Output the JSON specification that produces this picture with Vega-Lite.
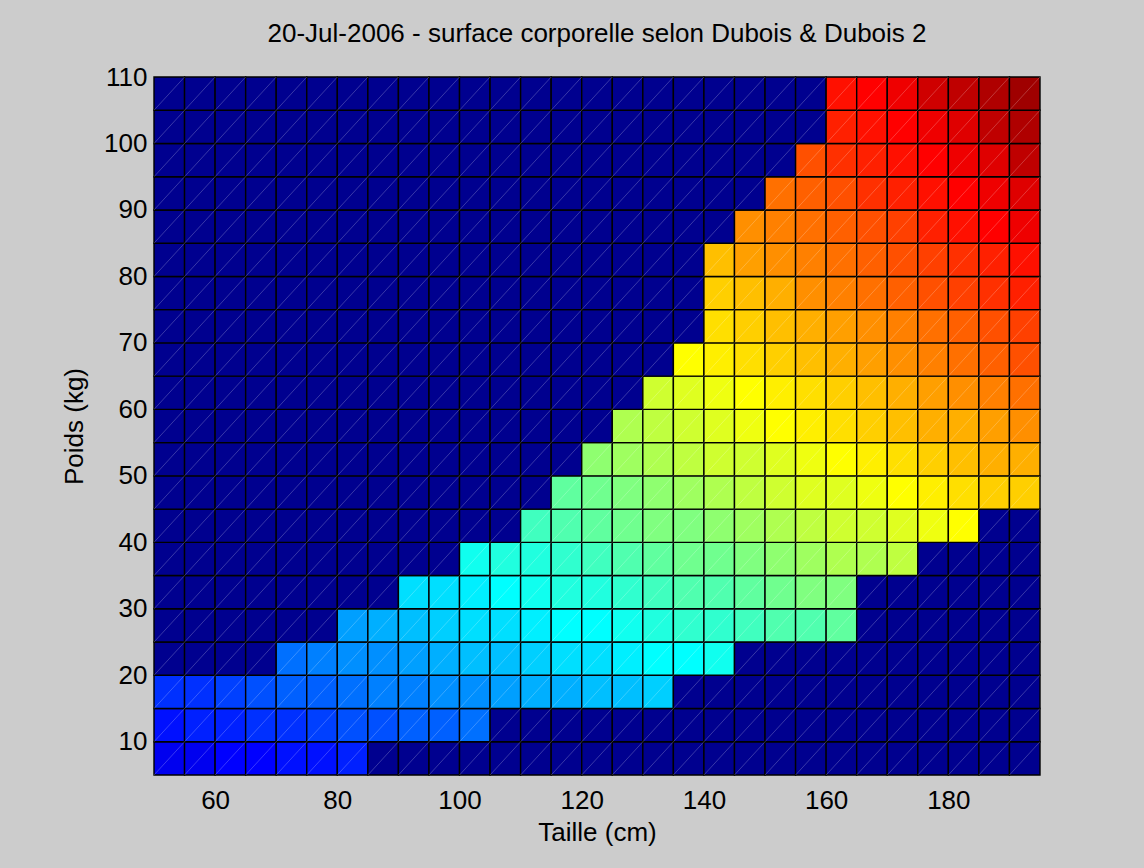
{
"$schema": "https://vega.github.io/schema/vega-lite/v6.json",
"width": 886, "height": 698,
"autosize": {"type": "none"},
"padding": {"left": 154, "top": 77, "right": 104, "bottom": 93},
"background": "#CCCCCC",
"config": {"view": {"stroke": null}, "font": "Liberation Sans"},
"title": {"text": "20-Jul-2006 - surface corporelle selon Dubois & Dubois 2", "font": "Liberation Sans", "fontSize": 26, "fontWeight": "normal", "color": "black", "anchor": "middle", "baseline": "alphabetic", "offset": -4},
"data": {"values": [
{"h":50,"w":5,"s":0.2428},{"h":55,"w":5,"s":0.2601},{"h":60,"w":5,"s":0.2771},{"h":65,"w":5,"s":0.2936},{"h":70,"w":5,"s":0.3098},{"h":75,"w":5,"s":0.3257},{"h":80,"w":5,"s":0.3413},
{"h":85,"w":5,"s":0},{"h":90,"w":5,"s":0},{"h":95,"w":5,"s":0},{"h":100,"w":5,"s":0},{"h":105,"w":5,"s":0},{"h":110,"w":5,"s":0},{"h":115,"w":5,"s":0},{"h":120,"w":5,"s":0},{"h":125,"w":5,"s":0},{"h":130,"w":5,"s":0},{"h":135,"w":5,"s":0},{"h":140,"w":5,"s":0},{"h":145,"w":5,"s":0},{"h":150,"w":5,"s":0},{"h":155,"w":5,"s":0},{"h":160,"w":5,"s":0},{"h":165,"w":5,"s":0},{"h":170,"w":5,"s":0},{"h":175,"w":5,"s":0},{"h":180,"w":5,"s":0},{"h":185,"w":5,"s":0},{"h":190,"w":5,"s":0},
{"h":50,"w":10,"s":0.3259},{"h":55,"w":10,"s":0.3493},{"h":60,"w":10,"s":0.3720},{"h":65,"w":10,"s":0.3942},{"h":70,"w":10,"s":0.4160},{"h":75,"w":10,"s":0.4373},{"h":80,"w":10,"s":0.4583},{"h":85,"w":10,"s":0.4789},{"h":90,"w":10,"s":0.4991},{"h":95,"w":10,"s":0.5191},{"h":100,"w":10,"s":0.5387},
{"h":105,"w":10,"s":0},{"h":110,"w":10,"s":0},{"h":115,"w":10,"s":0},{"h":120,"w":10,"s":0},{"h":125,"w":10,"s":0},{"h":130,"w":10,"s":0},{"h":135,"w":10,"s":0},{"h":140,"w":10,"s":0},{"h":145,"w":10,"s":0},{"h":150,"w":10,"s":0},{"h":155,"w":10,"s":0},{"h":160,"w":10,"s":0},{"h":165,"w":10,"s":0},{"h":170,"w":10,"s":0},{"h":175,"w":10,"s":0},{"h":180,"w":10,"s":0},{"h":185,"w":10,"s":0},{"h":190,"w":10,"s":0},
{"h":50,"w":15,"s":0.3872},{"h":55,"w":15,"s":0.4149},{"h":60,"w":15,"s":0.4419},{"h":65,"w":15,"s":0.4683},{"h":70,"w":15,"s":0.4942},{"h":75,"w":15,"s":0.5195},{"h":80,"w":15,"s":0.5444},{"h":85,"w":15,"s":0.5689},{"h":90,"w":15,"s":0.5930},{"h":95,"w":15,"s":0.6167},{"h":100,"w":15,"s":0.6400},{"h":105,"w":15,"s":0.6631},{"h":110,"w":15,"s":0.6858},{"h":115,"w":15,"s":0.7083},{"h":120,"w":15,"s":0.7305},{"h":125,"w":15,"s":0.7524},{"h":130,"w":15,"s":0.7741},
{"h":135,"w":15,"s":0},{"h":140,"w":15,"s":0},{"h":145,"w":15,"s":0},{"h":150,"w":15,"s":0},{"h":155,"w":15,"s":0},{"h":160,"w":15,"s":0},{"h":165,"w":15,"s":0},{"h":170,"w":15,"s":0},{"h":175,"w":15,"s":0},{"h":180,"w":15,"s":0},{"h":185,"w":15,"s":0},{"h":190,"w":15,"s":0},
{"h":50,"w":20,"s":0},{"h":55,"w":20,"s":0},{"h":60,"w":20,"s":0},{"h":65,"w":20,"s":0},
{"h":70,"w":20,"s":0.5585},{"h":75,"w":20,"s":0.5871},{"h":80,"w":20,"s":0.6152},{"h":85,"w":20,"s":0.6429},{"h":90,"w":20,"s":0.6701},{"h":95,"w":20,"s":0.6969},{"h":100,"w":20,"s":0.7233},{"h":105,"w":20,"s":0.7493},{"h":110,"w":20,"s":0.7750},{"h":115,"w":20,"s":0.8004},{"h":120,"w":20,"s":0.8255},{"h":125,"w":20,"s":0.8503},{"h":130,"w":20,"s":0.8748},{"h":135,"w":20,"s":0.8991},{"h":140,"w":20,"s":0.9231},
{"h":145,"w":20,"s":0},{"h":150,"w":20,"s":0},{"h":155,"w":20,"s":0},{"h":160,"w":20,"s":0},{"h":165,"w":20,"s":0},{"h":170,"w":20,"s":0},{"h":175,"w":20,"s":0},{"h":180,"w":20,"s":0},{"h":185,"w":20,"s":0},{"h":190,"w":20,"s":0},
{"h":50,"w":25,"s":0},{"h":55,"w":25,"s":0},{"h":60,"w":25,"s":0},{"h":65,"w":25,"s":0},{"h":70,"w":25,"s":0},{"h":75,"w":25,"s":0},
{"h":80,"w":25,"s":0.6765},{"h":85,"w":25,"s":0.7068},{"h":90,"w":25,"s":0.7367},{"h":95,"w":25,"s":0.7662},{"h":100,"w":25,"s":0.7952},{"h":105,"w":25,"s":0.8239},{"h":110,"w":25,"s":0.8521},{"h":115,"w":25,"s":0.8800},{"h":120,"w":25,"s":0.9076},{"h":125,"w":25,"s":0.9349},{"h":130,"w":25,"s":0.9619},{"h":135,"w":25,"s":0.9885},{"h":140,"w":25,"s":1.0149},{"h":145,"w":25,"s":1.0411},{"h":150,"w":25,"s":1.0670},{"h":155,"w":25,"s":1.0927},{"h":160,"w":25,"s":1.1181},
{"h":165,"w":25,"s":0},{"h":170,"w":25,"s":0},{"h":175,"w":25,"s":0},{"h":180,"w":25,"s":0},{"h":185,"w":25,"s":0},{"h":190,"w":25,"s":0},
{"h":50,"w":30,"s":0},{"h":55,"w":30,"s":0},{"h":60,"w":30,"s":0},{"h":65,"w":30,"s":0},{"h":70,"w":30,"s":0},{"h":75,"w":30,"s":0},{"h":80,"w":30,"s":0},{"h":85,"w":30,"s":0},
{"h":90,"w":30,"s":0.7961},{"h":95,"w":30,"s":0.8279},{"h":100,"w":30,"s":0.8593},{"h":105,"w":30,"s":0.8902},{"h":110,"w":30,"s":0.9208},{"h":115,"w":30,"s":0.9509},{"h":120,"w":30,"s":0.9807},{"h":125,"w":30,"s":1.0102},{"h":130,"w":30,"s":1.0393},{"h":135,"w":30,"s":1.0682},{"h":140,"w":30,"s":1.0967},{"h":145,"w":30,"s":1.1250},{"h":150,"w":30,"s":1.1529},{"h":155,"w":30,"s":1.1807},{"h":160,"w":30,"s":1.2082},
{"h":165,"w":30,"s":0},{"h":170,"w":30,"s":0},{"h":175,"w":30,"s":0},{"h":180,"w":30,"s":0},{"h":185,"w":30,"s":0},{"h":190,"w":30,"s":0},
{"h":50,"w":35,"s":0},{"h":55,"w":35,"s":0},{"h":60,"w":35,"s":0},{"h":65,"w":35,"s":0},{"h":70,"w":35,"s":0},{"h":75,"w":35,"s":0},{"h":80,"w":35,"s":0},{"h":85,"w":35,"s":0},{"h":90,"w":35,"s":0},{"h":95,"w":35,"s":0},
{"h":100,"w":35,"s":0.9175},{"h":105,"w":35,"s":0.9505},{"h":110,"w":35,"s":0.9831},{"h":115,"w":35,"s":1.0153},{"h":120,"w":35,"s":1.0471},{"h":125,"w":35,"s":1.0786},{"h":130,"w":35,"s":1.1097},{"h":135,"w":35,"s":1.1405},{"h":140,"w":35,"s":1.1709},{"h":145,"w":35,"s":1.2011},{"h":150,"w":35,"s":1.2310},{"h":155,"w":35,"s":1.2606},{"h":160,"w":35,"s":1.2899},{"h":165,"w":35,"s":1.3191},{"h":170,"w":35,"s":1.3479},
{"h":175,"w":35,"s":0},{"h":180,"w":35,"s":0},{"h":185,"w":35,"s":0},{"h":190,"w":35,"s":0},
{"h":50,"w":40,"s":0},{"h":55,"w":40,"s":0},{"h":60,"w":40,"s":0},{"h":65,"w":40,"s":0},{"h":70,"w":40,"s":0},{"h":75,"w":40,"s":0},{"h":80,"w":40,"s":0},{"h":85,"w":40,"s":0},{"h":90,"w":40,"s":0},{"h":95,"w":40,"s":0},{"h":100,"w":40,"s":0},{"h":105,"w":40,"s":0},
{"h":110,"w":40,"s":1.0405},{"h":115,"w":40,"s":1.0746},{"h":120,"w":40,"s":1.1083},{"h":125,"w":40,"s":1.1416},{"h":130,"w":40,"s":1.1745},{"h":135,"w":40,"s":1.2071},{"h":140,"w":40,"s":1.2393},{"h":145,"w":40,"s":1.2713},{"h":150,"w":40,"s":1.3029},{"h":155,"w":40,"s":1.3343},{"h":160,"w":40,"s":1.3653},{"h":165,"w":40,"s":1.3961},{"h":170,"w":40,"s":1.4266},{"h":175,"w":40,"s":1.4570},{"h":180,"w":40,"s":1.4870},
{"h":185,"w":40,"s":0},{"h":190,"w":40,"s":0},
{"h":50,"w":45,"s":0},{"h":55,"w":45,"s":0},{"h":60,"w":45,"s":0},{"h":65,"w":45,"s":0},{"h":70,"w":45,"s":0},{"h":75,"w":45,"s":0},{"h":80,"w":45,"s":0},{"h":85,"w":45,"s":0},{"h":90,"w":45,"s":0},{"h":95,"w":45,"s":0},{"h":100,"w":45,"s":0},{"h":105,"w":45,"s":0},{"h":110,"w":45,"s":0},
{"h":115,"w":45,"s":1.1298},{"h":120,"w":45,"s":1.1652},{"h":125,"w":45,"s":1.2002},{"h":130,"w":45,"s":1.2348},{"h":135,"w":45,"s":1.2690},{"h":140,"w":45,"s":1.3030},{"h":145,"w":45,"s":1.3365},{"h":150,"w":45,"s":1.3698},{"h":155,"w":45,"s":1.4028},{"h":160,"w":45,"s":1.4354},{"h":165,"w":45,"s":1.4678},{"h":170,"w":45,"s":1.4999},{"h":175,"w":45,"s":1.5318},{"h":180,"w":45,"s":1.5634},{"h":185,"w":45,"s":1.5947},{"h":190,"w":45,"s":1.6258},
{"h":50,"w":50,"s":0},{"h":55,"w":50,"s":0},{"h":60,"w":50,"s":0},{"h":65,"w":50,"s":0},{"h":70,"w":50,"s":0},{"h":75,"w":50,"s":0},{"h":80,"w":50,"s":0},{"h":85,"w":50,"s":0},{"h":90,"w":50,"s":0},{"h":95,"w":50,"s":0},{"h":100,"w":50,"s":0},{"h":105,"w":50,"s":0},{"h":110,"w":50,"s":0},{"h":115,"w":50,"s":0},
{"h":120,"w":50,"s":1.2186},{"h":125,"w":50,"s":1.2552},{"h":130,"w":50,"s":1.2914},{"h":135,"w":50,"s":1.3272},{"h":140,"w":50,"s":1.3626},{"h":145,"w":50,"s":1.3977},{"h":150,"w":50,"s":1.4325},{"h":155,"w":50,"s":1.4670},{"h":160,"w":50,"s":1.5011},{"h":165,"w":50,"s":1.5350},{"h":170,"w":50,"s":1.5686},{"h":175,"w":50,"s":1.6019},{"h":180,"w":50,"s":1.6350},{"h":185,"w":50,"s":1.6678},{"h":190,"w":50,"s":1.7003},
{"h":50,"w":55,"s":0},{"h":55,"w":55,"s":0},{"h":60,"w":55,"s":0},{"h":65,"w":55,"s":0},{"h":70,"w":55,"s":0},{"h":75,"w":55,"s":0},{"h":80,"w":55,"s":0},{"h":85,"w":55,"s":0},{"h":90,"w":55,"s":0},{"h":95,"w":55,"s":0},{"h":100,"w":55,"s":0},{"h":105,"w":55,"s":0},{"h":110,"w":55,"s":0},{"h":115,"w":55,"s":0},{"h":120,"w":55,"s":0},
{"h":125,"w":55,"s":1.3070},{"h":130,"w":55,"s":1.3447},{"h":135,"w":55,"s":1.3820},{"h":140,"w":55,"s":1.4189},{"h":145,"w":55,"s":1.4555},{"h":150,"w":55,"s":1.4917},{"h":155,"w":55,"s":1.5277},{"h":160,"w":55,"s":1.5632},{"h":165,"w":55,"s":1.5984},{"h":170,"w":55,"s":1.6334},{"h":175,"w":55,"s":1.6681},{"h":180,"w":55,"s":1.7025},{"h":185,"w":55,"s":1.7367},{"h":190,"w":55,"s":1.7706},
{"h":50,"w":60,"s":0},{"h":55,"w":60,"s":0},{"h":60,"w":60,"s":0},{"h":65,"w":60,"s":0},{"h":70,"w":60,"s":0},{"h":75,"w":60,"s":0},{"h":80,"w":60,"s":0},{"h":85,"w":60,"s":0},{"h":90,"w":60,"s":0},{"h":95,"w":60,"s":0},{"h":100,"w":60,"s":0},{"h":105,"w":60,"s":0},{"h":110,"w":60,"s":0},{"h":115,"w":60,"s":0},{"h":120,"w":60,"s":0},{"h":125,"w":60,"s":0},
{"h":130,"w":60,"s":1.3954},{"h":135,"w":60,"s":1.4341},{"h":140,"w":60,"s":1.4724},{"h":145,"w":60,"s":1.5103},{"h":150,"w":60,"s":1.5479},{"h":155,"w":60,"s":1.5852},{"h":160,"w":60,"s":1.6220},{"h":165,"w":60,"s":1.6586},{"h":170,"w":60,"s":1.6949},{"h":175,"w":60,"s":1.7309},{"h":180,"w":60,"s":1.7666},{"h":185,"w":60,"s":1.8021},{"h":190,"w":60,"s":1.8372},
{"h":50,"w":65,"s":0},{"h":55,"w":65,"s":0},{"h":60,"w":65,"s":0},{"h":65,"w":65,"s":0},{"h":70,"w":65,"s":0},{"h":75,"w":65,"s":0},{"h":80,"w":65,"s":0},{"h":85,"w":65,"s":0},{"h":90,"w":65,"s":0},{"h":95,"w":65,"s":0},{"h":100,"w":65,"s":0},{"h":105,"w":65,"s":0},{"h":110,"w":65,"s":0},{"h":115,"w":65,"s":0},{"h":120,"w":65,"s":0},{"h":125,"w":65,"s":0},{"h":130,"w":65,"s":0},
{"h":135,"w":65,"s":1.4837},{"h":140,"w":65,"s":1.5233},{"h":145,"w":65,"s":1.5626},{"h":150,"w":65,"s":1.6015},{"h":155,"w":65,"s":1.6400},{"h":160,"w":65,"s":1.6782},{"h":165,"w":65,"s":1.7160},{"h":170,"w":65,"s":1.7536},{"h":175,"w":65,"s":1.7909},{"h":180,"w":65,"s":1.8278},{"h":185,"w":65,"s":1.8645},{"h":190,"w":65,"s":1.9008},
{"h":50,"w":70,"s":0},{"h":55,"w":70,"s":0},{"h":60,"w":70,"s":0},{"h":65,"w":70,"s":0},{"h":70,"w":70,"s":0},{"h":75,"w":70,"s":0},{"h":80,"w":70,"s":0},{"h":85,"w":70,"s":0},{"h":90,"w":70,"s":0},{"h":95,"w":70,"s":0},{"h":100,"w":70,"s":0},{"h":105,"w":70,"s":0},{"h":110,"w":70,"s":0},{"h":115,"w":70,"s":0},{"h":120,"w":70,"s":0},{"h":125,"w":70,"s":0},{"h":130,"w":70,"s":0},{"h":135,"w":70,"s":0},
{"h":140,"w":70,"s":1.5721},{"h":145,"w":70,"s":1.6126},{"h":150,"w":70,"s":1.6527},{"h":155,"w":70,"s":1.6925},{"h":160,"w":70,"s":1.7319},{"h":165,"w":70,"s":1.7709},{"h":170,"w":70,"s":1.8097},{"h":175,"w":70,"s":1.8482},{"h":180,"w":70,"s":1.8863},{"h":185,"w":70,"s":1.9241},{"h":190,"w":70,"s":1.9617},
{"h":50,"w":75,"s":0},{"h":55,"w":75,"s":0},{"h":60,"w":75,"s":0},{"h":65,"w":75,"s":0},{"h":70,"w":75,"s":0},{"h":75,"w":75,"s":0},{"h":80,"w":75,"s":0},{"h":85,"w":75,"s":0},{"h":90,"w":75,"s":0},{"h":95,"w":75,"s":0},{"h":100,"w":75,"s":0},{"h":105,"w":75,"s":0},{"h":110,"w":75,"s":0},{"h":115,"w":75,"s":0},{"h":120,"w":75,"s":0},{"h":125,"w":75,"s":0},{"h":130,"w":75,"s":0},{"h":135,"w":75,"s":0},
{"h":140,"w":75,"s":1.6189},{"h":145,"w":75,"s":1.6606},{"h":150,"w":75,"s":1.7019},{"h":155,"w":75,"s":1.7429},{"h":160,"w":75,"s":1.7834},{"h":165,"w":75,"s":1.8236},{"h":170,"w":75,"s":1.8636},{"h":175,"w":75,"s":1.9032},{"h":180,"w":75,"s":1.9424},{"h":185,"w":75,"s":1.9814},{"h":190,"w":75,"s":2.0201},
{"h":50,"w":80,"s":0},{"h":55,"w":80,"s":0},{"h":60,"w":80,"s":0},{"h":65,"w":80,"s":0},{"h":70,"w":80,"s":0},{"h":75,"w":80,"s":0},{"h":80,"w":80,"s":0},{"h":85,"w":80,"s":0},{"h":90,"w":80,"s":0},{"h":95,"w":80,"s":0},{"h":100,"w":80,"s":0},{"h":105,"w":80,"s":0},{"h":110,"w":80,"s":0},{"h":115,"w":80,"s":0},{"h":120,"w":80,"s":0},{"h":125,"w":80,"s":0},{"h":130,"w":80,"s":0},{"h":135,"w":80,"s":0},
{"h":140,"w":80,"s":1.6639},{"h":145,"w":80,"s":1.7067},{"h":150,"w":80,"s":1.7492},{"h":155,"w":80,"s":1.7914},{"h":160,"w":80,"s":1.8330},{"h":165,"w":80,"s":1.8743},{"h":170,"w":80,"s":1.9154},{"h":175,"w":80,"s":1.9561},{"h":180,"w":80,"s":1.9964},{"h":185,"w":80,"s":2.0365},{"h":190,"w":80,"s":2.0762},
{"h":50,"w":85,"s":0},{"h":55,"w":85,"s":0},{"h":60,"w":85,"s":0},{"h":65,"w":85,"s":0},{"h":70,"w":85,"s":0},{"h":75,"w":85,"s":0},{"h":80,"w":85,"s":0},{"h":85,"w":85,"s":0},{"h":90,"w":85,"s":0},{"h":95,"w":85,"s":0},{"h":100,"w":85,"s":0},{"h":105,"w":85,"s":0},{"h":110,"w":85,"s":0},{"h":115,"w":85,"s":0},{"h":120,"w":85,"s":0},{"h":125,"w":85,"s":0},{"h":130,"w":85,"s":0},{"h":135,"w":85,"s":0},{"h":140,"w":85,"s":0},
{"h":145,"w":85,"s":1.7513},{"h":150,"w":85,"s":1.7949},{"h":155,"w":85,"s":1.8381},{"h":160,"w":85,"s":1.8808},{"h":165,"w":85,"s":1.9233},{"h":170,"w":85,"s":1.9654},{"h":175,"w":85,"s":2.0072},{"h":180,"w":85,"s":2.0485},{"h":185,"w":85,"s":2.0896},{"h":190,"w":85,"s":2.1304},
{"h":50,"w":90,"s":0},{"h":55,"w":90,"s":0},{"h":60,"w":90,"s":0},{"h":65,"w":90,"s":0},{"h":70,"w":90,"s":0},{"h":75,"w":90,"s":0},{"h":80,"w":90,"s":0},{"h":85,"w":90,"s":0},{"h":90,"w":90,"s":0},{"h":95,"w":90,"s":0},{"h":100,"w":90,"s":0},{"h":105,"w":90,"s":0},{"h":110,"w":90,"s":0},{"h":115,"w":90,"s":0},{"h":120,"w":90,"s":0},{"h":125,"w":90,"s":0},{"h":130,"w":90,"s":0},{"h":135,"w":90,"s":0},{"h":140,"w":90,"s":0},{"h":145,"w":90,"s":0},
{"h":150,"w":90,"s":1.8390},{"h":155,"w":90,"s":1.8833},{"h":160,"w":90,"s":1.9271},{"h":165,"w":90,"s":1.9706},{"h":170,"w":90,"s":2.0137},{"h":175,"w":90,"s":2.0565},{"h":180,"w":90,"s":2.0989},{"h":185,"w":90,"s":2.1410},{"h":190,"w":90,"s":2.1828},
{"h":50,"w":95,"s":0},{"h":55,"w":95,"s":0},{"h":60,"w":95,"s":0},{"h":65,"w":95,"s":0},{"h":70,"w":95,"s":0},{"h":75,"w":95,"s":0},{"h":80,"w":95,"s":0},{"h":85,"w":95,"s":0},{"h":90,"w":95,"s":0},{"h":95,"w":95,"s":0},{"h":100,"w":95,"s":0},{"h":105,"w":95,"s":0},{"h":110,"w":95,"s":0},{"h":115,"w":95,"s":0},{"h":120,"w":95,"s":0},{"h":125,"w":95,"s":0},{"h":130,"w":95,"s":0},{"h":135,"w":95,"s":0},{"h":140,"w":95,"s":0},{"h":145,"w":95,"s":0},{"h":150,"w":95,"s":0},
{"h":155,"w":95,"s":1.9271},{"h":160,"w":95,"s":1.9719},{"h":165,"w":95,"s":2.0164},{"h":170,"w":95,"s":2.0605},{"h":175,"w":95,"s":2.1043},{"h":180,"w":95,"s":2.1477},{"h":185,"w":95,"s":2.1908},{"h":190,"w":95,"s":2.2335},
{"h":50,"w":100,"s":0},{"h":55,"w":100,"s":0},{"h":60,"w":100,"s":0},{"h":65,"w":100,"s":0},{"h":70,"w":100,"s":0},{"h":75,"w":100,"s":0},{"h":80,"w":100,"s":0},{"h":85,"w":100,"s":0},{"h":90,"w":100,"s":0},{"h":95,"w":100,"s":0},{"h":100,"w":100,"s":0},{"h":105,"w":100,"s":0},{"h":110,"w":100,"s":0},{"h":115,"w":100,"s":0},{"h":120,"w":100,"s":0},{"h":125,"w":100,"s":0},{"h":130,"w":100,"s":0},{"h":135,"w":100,"s":0},{"h":140,"w":100,"s":0},{"h":145,"w":100,"s":0},{"h":150,"w":100,"s":0},{"h":155,"w":100,"s":0},
{"h":160,"w":100,"s":2.0153},{"h":165,"w":100,"s":2.0608},{"h":170,"w":100,"s":2.1059},{"h":175,"w":100,"s":2.1507},{"h":180,"w":100,"s":2.1950},{"h":185,"w":100,"s":2.2391},{"h":190,"w":100,"s":2.2827},
{"h":50,"w":105,"s":0},{"h":55,"w":105,"s":0},{"h":60,"w":105,"s":0},{"h":65,"w":105,"s":0},{"h":70,"w":105,"s":0},{"h":75,"w":105,"s":0},{"h":80,"w":105,"s":0},{"h":85,"w":105,"s":0},{"h":90,"w":105,"s":0},{"h":95,"w":105,"s":0},{"h":100,"w":105,"s":0},{"h":105,"w":105,"s":0},{"h":110,"w":105,"s":0},{"h":115,"w":105,"s":0},{"h":120,"w":105,"s":0},{"h":125,"w":105,"s":0},{"h":130,"w":105,"s":0},{"h":135,"w":105,"s":0},{"h":140,"w":105,"s":0},{"h":145,"w":105,"s":0},{"h":150,"w":105,"s":0},{"h":155,"w":105,"s":0},
{"h":160,"w":105,"s":2.0575},{"h":165,"w":105,"s":2.1040},{"h":170,"w":105,"s":2.1500},{"h":175,"w":105,"s":2.1957},{"h":180,"w":105,"s":2.2410},{"h":185,"w":105,"s":2.2859},{"h":190,"w":105,"s":2.3306}
]},
"transform": [
{"bin": {"step": 5, "extent": [50, 195]}, "field": "h", "as": ["h0", "h1"]},
{"bin": {"step": 5, "extent": [5, 110]}, "field": "w", "as": ["w0", "w1"]}
],
"encoding": {
"x": {"field": "h0", "type": "quantitative", "scale": {"domain": [50, 195], "nice": false, "zero": false},
 "axis": {"values": [60, 80, 100, 120, 140, 160, 180], "title": "Taille (cm)", "grid": false, "ticks": false, "domain": false, "labelFont": "Liberation Sans", "labelFontSize": 26, "labelColor": "black", "labelPadding": 12, "titleFont": "Liberation Sans", "titleFontSize": 26, "titleFontWeight": "normal", "titleColor": "black", "titlePadding": 6}},
"x2": {"field": "h1"},
"y": {"field": "w0", "type": "quantitative", "scale": {"domain": [5, 110], "nice": false, "zero": false},
 "axis": {"values": [10, 20, 30, 40, 50, 60, 70, 80, 90, 100, 110], "title": "Poids (kg)", "grid": false, "ticks": false, "domain": false, "labelFont": "Liberation Sans", "labelFontSize": 26, "labelColor": "black", "labelPadding": 7, "titleFont": "Liberation Sans", "titleFontSize": 26, "titleFontWeight": "normal", "titleColor": "black", "titlePadding": 16}},
"y2": {"field": "w1"}
},
"layer": [
{"mark": {"type": "rect", "stroke": "black", "strokeWidth": 1.4},
 "encoding": {"color": {"field": "s", "type": "quantitative", "legend": null,
  "scale": {"type": "quantize", "domain": [0, 2.4223], "nice": false, "zero": false, "range": ["#00008F","#00009F","#0000AF","#0000BF","#0000CF","#0000DF","#0000EF","#0000FF","#0010FF","#0020FF","#0030FF","#0040FF","#0050FF","#0060FF","#0070FF","#0080FF","#008FFF","#009FFF","#00AFFF","#00BFFF","#00CFFF","#00DFFF","#00EFFF","#00FFFF","#10FFEF","#20FFDF","#30FFCF","#40FFBF","#50FFAF","#60FF9F","#70FF8F","#80FF80","#8FFF70","#9FFF60","#AFFF50","#BFFF40","#CFFF30","#DFFF20","#EFFF10","#FFFF00","#FFEF00","#FFDF00","#FFCF00","#FFBF00","#FFAF00","#FF9F00","#FF8F00","#FF8000","#FF7000","#FF6000","#FF5000","#FF4000","#FF3000","#FF2000","#FF1000","#FF0000","#EF0000","#DF0000","#CF0000","#BF0000","#AF0000","#9F0000","#8F0000","#800000"]}}}},
{"mark": {"type": "rule", "color": "white", "strokeWidth": 1, "opacity": 0.22}}
]
}
